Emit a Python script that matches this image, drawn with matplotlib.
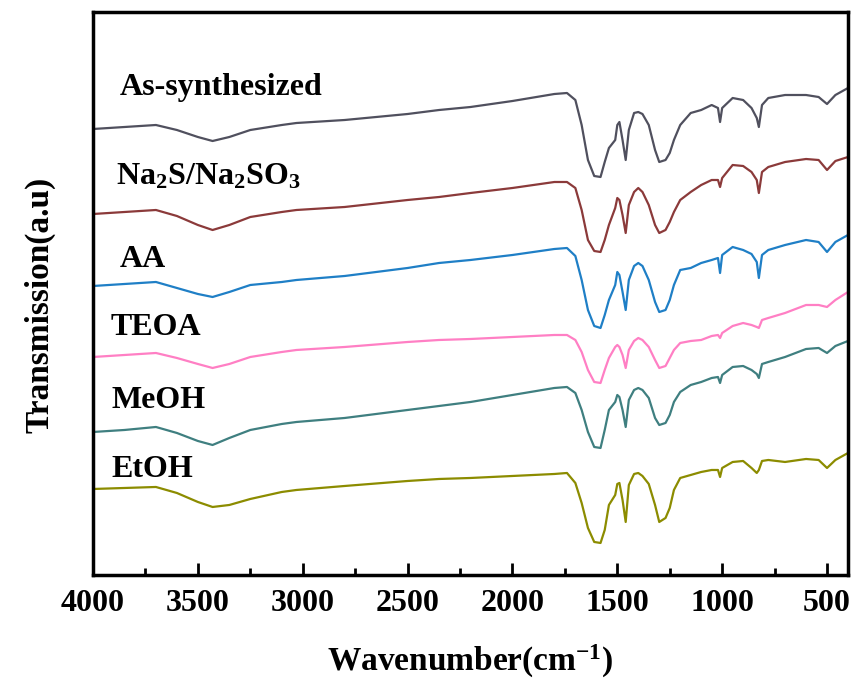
import matplotlib
matplotlib.use("Agg")
import matplotlib.pyplot as plt
from matplotlib.ticker import MultipleLocator

plt.rcParams['font.family'] = ['Liberation Serif', 'DejaVu Serif']
plt.rcParams['font.weight'] = 'bold'
plt.rcParams['mathtext.fontset'] = 'custom'
plt.rcParams['mathtext.rm'] = 'Liberation Serif:bold'
plt.rcParams['mathtext.it'] = 'Liberation Serif:bold'
plt.rcParams['mathtext.bf'] = 'Liberation Serif:bold'

# --- data (stacked, arbitrary units) ---
wavenumber = [4000, 3850, 3700, 3600, 3500, 3430, 3350, 3250, 3100, 3030,
              2800, 2500, 2350, 2200, 2000, 1800, 1740, 1700, 1670, 1640,
              1610, 1580, 1560, 1540, 1510, 1500, 1490, 1475, 1460, 1445,
              1420, 1400, 1380, 1350, 1320, 1300, 1270, 1250, 1230, 1200,
              1150, 1100, 1050, 1020, 1010, 1000, 950, 900, 860, 835,
              825, 810, 780, 700, 600, 540, 500, 460, 400]

as_synth = [471, 473, 475, 470, 463, 459, 463, 470, 475, 477,
            480, 486, 490, 493, 499, 506, 507, 500, 475, 440,
            424, 423, 438, 452, 460, 475, 478, 460, 440, 470,
            487, 488, 486, 475, 450, 438, 440, 447, 460, 475,
            487, 490, 495, 492, 478, 492, 502, 500, 492, 482,
            473, 495, 502, 505, 505, 503, 496, 505, 512]

na2s = [386, 388, 390, 384, 375, 370, 375, 383, 388, 390,
        393, 400, 403, 407, 412, 418, 418, 412, 390, 360,
        349, 348, 360, 375, 392, 402, 400, 385, 367, 395,
        408, 412, 408, 395, 375, 367, 370, 378, 388, 400,
        408, 415, 420, 420, 413, 422, 435, 434, 428, 420,
        407, 428, 433, 438, 441, 440, 430, 439, 443]

aa = [314, 316, 318, 312, 306, 303, 308, 315, 318, 320,
      324, 332, 337, 340, 345, 351, 352, 344, 320, 290,
      274, 272, 285, 300, 315, 328, 325, 308, 290, 320,
      334, 337, 334, 320, 298, 288, 290, 300, 315, 330,
      332, 337, 340, 342, 327, 345, 353, 350, 346, 338,
      322, 345, 350, 355, 360, 358, 348, 358, 365]

teoa = [243, 245, 247, 242, 236, 232, 236, 243, 248, 250,
        253, 258, 260, 261, 263, 265, 265, 260, 248, 230,
        218, 217, 230, 242, 253, 255, 253, 245, 232, 250,
        259, 262, 260, 253, 240, 232, 234, 242, 250, 257,
        259, 260, 264, 265, 262, 267, 274, 277, 275, 273,
        272, 280, 282, 287, 295, 295, 293, 300, 308]

meoh = [168, 170, 173, 167, 159, 155, 162, 170, 176, 178,
        182, 190, 194, 198, 205, 212, 213, 207, 190, 168,
        153, 152, 170, 190, 198, 205, 203, 190, 173, 200,
        210, 212, 210, 202, 182, 175, 177, 185, 198, 208,
        215, 218, 222, 223, 217, 225, 233, 234, 230, 226,
        222, 236, 238, 243, 251, 252, 247, 254, 259]

etoh = [111, 112, 113, 107, 98, 93, 95, 101, 108, 110,
        114, 119, 121, 122, 124, 126, 127, 117, 97, 72,
        58, 57, 70, 95, 105, 116, 117, 100, 78, 115,
        126, 127, 124, 116, 95, 78, 82, 92, 110, 122,
        125, 128, 130, 130, 123, 132, 138, 139, 132, 127,
        130, 139, 140, 138, 141, 140, 132, 140, 147]

labels = ['As-synthesized', r'Na$_2$S/Na$_2$SO$_3$', 'AA', 'TEOA', 'MeOH', 'EtOH']
series = [as_synth, na2s, aa, teoa, meoh, etoh]
colors = ['#50505e', '#8b3a3a', '#1f7fc6', '#ff7fc4', '#3f7f80', '#8c8c00']
# label anchor (wavenumber, baseline value)
label_pos = [(3872, 505), (3891, 415), (3872, 333), (3914, 265), (3910, 192), (3910, 123)]

fig = plt.figure(figsize=(8.55, 6.9), dpi=100)
ax = fig.add_axes([0.1088, 0.1667, 0.8830, 0.8159])

for y, c in zip(series, colors):
    ax.plot(wavenumber, y, color=c, lw=1.6)

for (x, yb), lab in zip(label_pos, labels):
    ax.text(x, yb, lab, fontsize=23, fontweight='bold', ha='left', va='baseline')

ax.set_xlim(4000, 400)
ax.set_ylim(25, 588)
ax.set_yticks([])
ax.xaxis.set_major_locator(MultipleLocator(500))
ax.xaxis.set_minor_locator(MultipleLocator(250))
ax.tick_params(axis='x', which='major', direction='in', length=9, width=2,
               labelsize=23, pad=10, top=False)
ax.tick_params(axis='x', which='minor', direction='in', length=5, width=2, top=False)
for s in ax.spines.values():
    s.set_linewidth(2.5)

ax.set_xlabel(r'Wavenumber(cm$^{-1}$)', fontsize=24, fontweight='bold')
ax.set_ylabel('Transmission(a.u)', fontsize=24, fontweight='bold')
ax.xaxis.set_label_coords(0.5, -0.12)
ax.yaxis.set_label_coords(-0.05, 0.48)

fig.savefig('out.png', dpi=100)
